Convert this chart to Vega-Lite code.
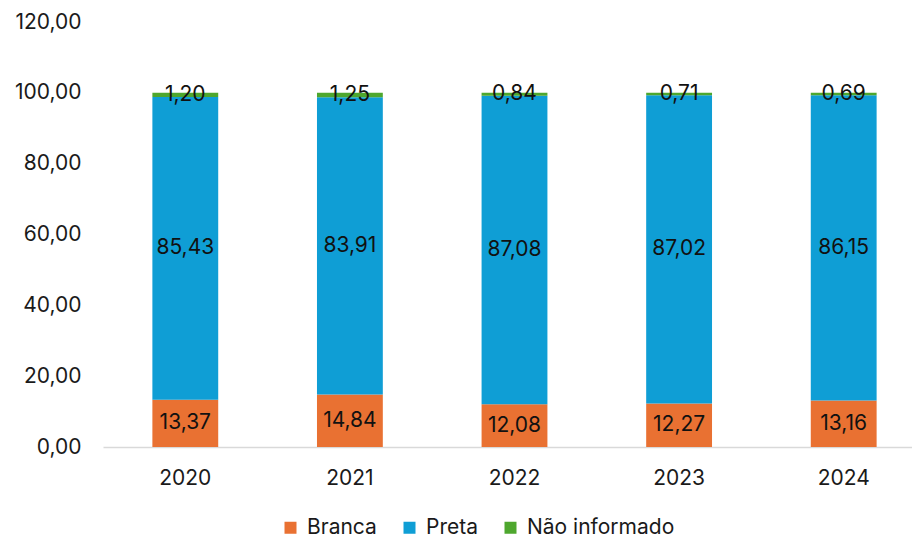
{
  "$schema": "https://vega.github.io/schema/vega-lite/v6.json",
  "width": 809,
  "height": 425,
  "autosize": {"type": "none"},
  "padding": {"left": 103, "top": 22, "right": 0, "bottom": 93},
  "config": {
    "locale": {"number": {"decimal": ",", "thousands": ".", "grouping": [3], "currency": ["R$", ""]}},
    "view": {"stroke": null},
    "font": "Inter"
  },
  "data": {
    "values": [
      {"ano": "2020", "raca": "Branca", "k": 1, "valor": 13.37},
      {"ano": "2020", "raca": "Preta", "k": 2, "valor": 85.43},
      {"ano": "2020", "raca": "Não informado", "k": 3, "valor": 1.20},
      {"ano": "2021", "raca": "Branca", "k": 1, "valor": 14.84},
      {"ano": "2021", "raca": "Preta", "k": 2, "valor": 83.91},
      {"ano": "2021", "raca": "Não informado", "k": 3, "valor": 1.25},
      {"ano": "2022", "raca": "Branca", "k": 1, "valor": 12.08},
      {"ano": "2022", "raca": "Preta", "k": 2, "valor": 87.08},
      {"ano": "2022", "raca": "Não informado", "k": 3, "valor": 0.84},
      {"ano": "2023", "raca": "Branca", "k": 1, "valor": 12.27},
      {"ano": "2023", "raca": "Preta", "k": 2, "valor": 87.02},
      {"ano": "2023", "raca": "Não informado", "k": 3, "valor": 0.71},
      {"ano": "2024", "raca": "Branca", "k": 1, "valor": 13.16},
      {"ano": "2024", "raca": "Preta", "k": 2, "valor": 86.15},
      {"ano": "2024", "raca": "Não informado", "k": 3, "valor": 0.69}
    ]
  },
  "encoding": {
    "x": {
      "field": "ano",
      "type": "nominal",
      "scale": {"range": [0, 823], "paddingInner": 0.6, "paddingOuter": 0.3},
      "axis": {
        "title": null,
        "labelAngle": 0,
        "domain": true,
        "domainColor": "#D9D9D9",
        "domainWidth": 1.5,
        "ticks": false,
        "tickSize": 0,
        "labelPadding": 20,
        "labelFontSize": 21,
        "labelColor": "#1a1a1a",
        "labelFont": "Inter"
      }
    },
    "y": {
      "field": "valor",
      "type": "quantitative",
      "stack": "zero",
      "scale": {"domain": [0, 120], "nice": false},
      "axis": {
        "title": null,
        "values": [0, 20, 40, 60, 80, 100, 120],
        "format": ".2f",
        "domain": false,
        "ticks": false,
        "tickSize": 0,
        "grid": false,
        "labelPadding": 22,
        "labelFontSize": 21,
        "labelColor": "#1a1a1a",
        "labelFont": "Inter"
      }
    },
    "order": {"field": "k", "type": "quantitative"}
  },
  "layer": [
    {
      "mark": {"type": "bar"},
      "encoding": {
        "color": {
          "field": "raca",
          "type": "nominal",
          "scale": {"domain": ["Branca", "Preta", "Não informado"], "range": ["#E97132", "#0F9ED5", "#4EA72E"]},
          "legend": {
            "title": null,
            "orient": "none",
            "direction": "horizontal",
            "legendX": 177,
            "legendY": 495,
            "symbolType": "square",
            "symbolSize": 144,
            "symbolStrokeWidth": 0,
            "labelFontSize": 21,
            "labelFont": "Inter",
            "labelColor": "#1a1a1a",
            "labelOffset": 6,
            "columnPadding": 22
          }
        }
      }
    },
    {
      "mark": {"type": "text", "font": "Inter", "fontSize": 21, "color": "#111111", "baseline": "middle"},
      "encoding": {
        "y": {"field": "valor", "type": "quantitative", "stack": "zero", "bandPosition": 0.5},
        "detail": {"field": "raca", "type": "nominal"},
        "text": {"field": "valor", "type": "quantitative", "format": ".2f"}
      }
    }
  ]
}
